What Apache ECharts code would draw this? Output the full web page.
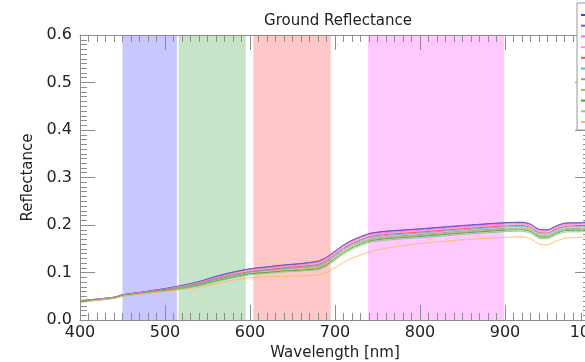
<!DOCTYPE html>
<html>
<head>
<meta charset="utf-8">
<script src="https://cdn.jsdelivr.net/npm/echarts@6/dist/echarts.min.js"></script>
<style>
  html, body { margin: 0; padding: 0; background: #fff; }
  #chart { width: 585px; height: 362px; }
</style>
</head>
<body>
<div id="chart"></div>
<script>
var chart = echarts.init(document.getElementById('chart'));

// wavelength sampling [nm]
var wavelengths = [400, 420, 440, 450, 470, 500, 520, 540, 560, 580, 600, 620, 640, 660, 680, 690,
    700, 710, 720, 740, 760, 800, 850, 900, 920, 930, 940, 950, 960, 970, 990, 1000];

// reflectance spectra
var names = ['Sample 1', 'Sample 2', 'Sample 3', 'Sample 4', 'Sample 5', 'Sample 6',
    'Sample 7', 'Sample 8', 'Sample 9', 'Sample 10', 'Sample 11'];
var colors = ['#3050a8', '#8a4fc8', '#f070f0', '#ff99c8', '#f05050', '#50c0c8',
    '#9a9a9a', '#b8b848', '#40a040', '#88c888', '#ffb860'];
var spectra = [
    [0.041, 0.044, 0.048, 0.053, 0.058, 0.066, 0.073, 0.081, 0.092, 0.101, 0.108, 0.112, 0.116, 0.119, 0.124, 0.132,
     0.145, 0.158, 0.168, 0.182, 0.187, 0.192, 0.199, 0.205, 0.206, 0.202, 0.191, 0.190, 0.198, 0.204, 0.205, 0.208],
    [0.040, 0.044, 0.048, 0.053, 0.058, 0.066, 0.072, 0.080, 0.091, 0.100, 0.107, 0.111, 0.115, 0.118, 0.123, 0.131,
     0.144, 0.157, 0.167, 0.181, 0.186, 0.191, 0.198, 0.204, 0.205, 0.201, 0.190, 0.189, 0.197, 0.203, 0.204, 0.207],
    [0.040, 0.043, 0.047, 0.052, 0.057, 0.065, 0.071, 0.079, 0.089, 0.098, 0.105, 0.109, 0.113, 0.116, 0.121, 0.129,
     0.142, 0.155, 0.165, 0.179, 0.184, 0.189, 0.196, 0.202, 0.203, 0.199, 0.188, 0.187, 0.195, 0.201, 0.202, 0.205],
    [0.040, 0.043, 0.047, 0.052, 0.057, 0.064, 0.070, 0.078, 0.088, 0.097, 0.104, 0.108, 0.112, 0.115, 0.120, 0.128,
     0.140, 0.153, 0.163, 0.177, 0.182, 0.187, 0.194, 0.200, 0.201, 0.197, 0.186, 0.185, 0.193, 0.199, 0.200, 0.203],
    [0.039, 0.043, 0.047, 0.052, 0.056, 0.064, 0.069, 0.077, 0.087, 0.095, 0.102, 0.106, 0.110, 0.113, 0.117, 0.125,
     0.138, 0.151, 0.161, 0.175, 0.180, 0.185, 0.192, 0.198, 0.199, 0.195, 0.184, 0.183, 0.191, 0.197, 0.198, 0.201],
    [0.040, 0.043, 0.047, 0.052, 0.056, 0.063, 0.069, 0.076, 0.086, 0.094, 0.101, 0.105, 0.108, 0.111, 0.115, 0.123,
     0.136, 0.149, 0.159, 0.173, 0.178, 0.183, 0.190, 0.196, 0.197, 0.193, 0.182, 0.181, 0.189, 0.195, 0.196, 0.199],
    [0.039, 0.042, 0.046, 0.051, 0.056, 0.063, 0.068, 0.075, 0.085, 0.093, 0.100, 0.104, 0.107, 0.110, 0.113, 0.121,
     0.134, 0.147, 0.157, 0.170, 0.175, 0.180, 0.187, 0.193, 0.194, 0.190, 0.179, 0.178, 0.186, 0.192, 0.193, 0.196],
    [0.039, 0.042, 0.046, 0.051, 0.055, 0.062, 0.067, 0.074, 0.083, 0.091, 0.098, 0.101, 0.104, 0.107, 0.110, 0.118,
     0.131, 0.144, 0.154, 0.168, 0.173, 0.178, 0.185, 0.191, 0.192, 0.188, 0.177, 0.176, 0.184, 0.190, 0.191, 0.194],
    [0.039, 0.042, 0.046, 0.051, 0.055, 0.062, 0.066, 0.073, 0.082, 0.090, 0.097, 0.100, 0.103, 0.105, 0.108, 0.116,
     0.129, 0.142, 0.152, 0.166, 0.171, 0.176, 0.183, 0.189, 0.190, 0.186, 0.175, 0.174, 0.182, 0.188, 0.189, 0.192],
    [0.038, 0.042, 0.046, 0.050, 0.055, 0.061, 0.066, 0.072, 0.081, 0.089, 0.095, 0.098, 0.101, 0.103, 0.106, 0.113,
     0.126, 0.139, 0.149, 0.163, 0.168, 0.173, 0.180, 0.186, 0.187, 0.183, 0.172, 0.171, 0.179, 0.185, 0.186, 0.189],
    [0.037, 0.041, 0.045, 0.050, 0.054, 0.060, 0.064, 0.069, 0.076, 0.084, 0.089, 0.091, 0.092, 0.093, 0.095, 0.100,
     0.110, 0.121, 0.130, 0.143, 0.151, 0.161, 0.169, 0.174, 0.175, 0.171, 0.160, 0.158, 0.166, 0.172, 0.174, 0.177]
];

// spectral bands [from, to] in nm
var bandRanges = [[450, 514], [516, 595], [604, 695], [739, 899]];
var bandColors = ['#c8c8ff', '#c8e4c8', '#ffc8c8', '#ffc8ff'];

var font = 'DejaVu Sans';
var axisGray = '#8c8c8c';

function makeXAxis(pos, showLabel) {
    return {
        type: 'value', position: pos, min: 400, max: 1000, interval: 100, z: 5,
        name: showLabel ? 'Wavelength [nm]' : '',
        nameLocation: 'middle', nameGap: 22,
        nameTextStyle: { fontFamily: font, fontSize: 15, color: '#222' },
        axisLine: { show: true, onZero: false, lineStyle: { color: axisGray, width: 1 } },
        axisTick: { show: true, inside: true, length: 15, lineStyle: { color: axisGray } },
        minorTick: { show: true, splitNumber: 10, length: 7, lineStyle: { color: axisGray } },
        axisLabel: {
            show: showLabel, fontFamily: font, fontSize: 16, color: '#222', margin: 5,
            formatter: function (v) { return String(v); }
        },
        splitLine: { show: false }
    };
}

function makeYAxis(pos, showLabel) {
    return {
        type: 'value', position: pos, min: 0, max: 0.6, interval: 0.1, z: 5,
        name: showLabel ? 'Reflectance' : '',
        nameLocation: 'middle', nameGap: 42,
        nameTextStyle: { fontFamily: font, fontSize: 15, color: '#222' },
        axisLine: { show: true, onZero: false, lineStyle: { color: axisGray, width: 1 } },
        axisTick: { show: true, inside: true, length: 15, lineStyle: { color: axisGray } },
        minorTick: { show: true, splitNumber: 10, length: 7, lineStyle: { color: axisGray } },
        axisLabel: {
            show: showLabel, fontFamily: font, fontSize: 16, color: '#222', margin: 8,
            formatter: function (v) { return v.toFixed(1); }
        },
        splitLine: { show: false }
    };
}

var series = [{
    name: 'bands',
    type: 'line',
    data: [],
    silent: true,
    z: 1,
    markArea: {
        silent: true,
        data: bandRanges.map(function (r, i) {
            return [{ xAxis: r[0], yAxis: 0, itemStyle: { color: bandColors[i], opacity: 1 } },
                    { xAxis: r[1], yAxis: 0.6 }];
        })
    }
}];

spectra.forEach(function (vals, i) {
    series.push({
        name: names[i],
        type: 'line',
        z: 3,
        showSymbol: false,
        smooth: 0.2,
        color: colors[i],
        lineStyle: { width: 1, opacity: 0.9 },
        data: wavelengths.map(function (w, j) { return [w, vals[j]]; })
    });
});

var option = {
    animation: false,
    backgroundColor: '#fff',
    title: {
        text: 'Ground Reflectance',
        left: 333, top: 9, textAlign: 'center',
        textStyle: { fontFamily: font, fontSize: 15, fontWeight: 'normal', color: '#222' }
    },
    legend: {
        data: names,
        orient: 'vertical',
        left: 577, top: 3,
        backgroundColor: '#fff',
        borderColor: '#999', borderWidth: 1,
        padding: [8, 4, 4, 4],
        icon: 'rect', itemWidth: 8, itemHeight: 2, itemGap: 2.7,
        textStyle: { fontFamily: font, fontSize: 8, lineHeight: 8, color: '#222' },
        z: 10
    },
    grid: { left: 80, top: 35, width: 510, height: 285, outerBoundsMode: 'none', containLabel: false },
    xAxis: [makeXAxis('bottom', true), makeXAxis('top', false)],
    yAxis: [makeYAxis('left', true), makeYAxis('right', false)],
    series: series
};

chart.setOption(option);
</script>
</body>
</html>
